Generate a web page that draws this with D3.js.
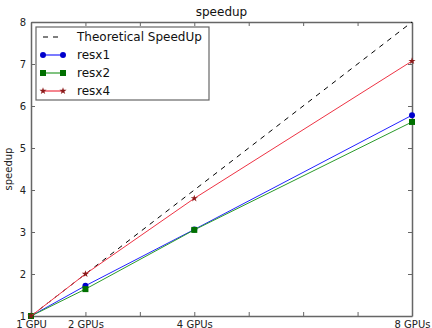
<!DOCTYPE html>
<html>
<head>
<meta charset="utf-8">
<script src="https://cdn.jsdelivr.net/npm/d3@7"></script>
<style>
  body { margin: 0; background: #fff; }
  svg { font-family: "DejaVu Sans", sans-serif; }
</style>
</head>
<body>
<script>
const gpus = [1, 2, 4, 8];
const tickLabels = ["1 GPU", "2 GPUs", "4 GPUs", "8 GPUs"];
const theoretical = [1, 2, 4, 8];
const resx1 = [1, 1.72, 3.06, 5.78];
const resx2 = [1, 1.64, 3.05, 5.62];
const resx4 = [1, 2.0, 3.8, 7.07];

const width = 432, height = 328;
const margin = { top: 22, right: 20, bottom: 12, left: 31 };
const w = 412 - margin.left, h = 316 - margin.top;

const svg = d3.select("body").append("svg")
  .attr("width", width).attr("height", height);

const g = svg.append("g").attr("transform", `translate(${margin.left},${margin.top})`);

const x = d3.scaleLinear().domain([1, 8]).range([0, w]);
const y = d3.scaleLinear().domain([1, 8]).range([h, 0]);

// ticks inside, on all four sides
const xTicks = d3.range(1, 9);
const yTicks = d3.range(1, 9);
const tickLen = 4;
const axisColor = "#666";

function label(v) {
  const i = gpus.indexOf(v);
  return i >= 0 ? tickLabels[i] : "";
}

const axBottom = g.append("g").attr("transform", `translate(0,${h})`)
  .call(d3.axisBottom(x).tickValues(xTicks).tickSizeInner(-tickLen).tickSizeOuter(0).tickPadding(3).tickFormat(label));
const axTop = g.append("g")
  .call(d3.axisTop(x).tickValues(xTicks).tickSizeInner(-tickLen).tickSizeOuter(0).tickFormat(""));
const axLeft = g.append("g")
  .call(d3.axisLeft(y).tickValues(yTicks).tickSizeInner(-tickLen).tickSizeOuter(0).tickPadding(5).tickFormat(d3.format("d")));
const axRight = g.append("g").attr("transform", `translate(${w},0)`)
  .call(d3.axisRight(y).tickValues(yTicks).tickSizeInner(-tickLen).tickSizeOuter(0).tickFormat(""));

[axBottom, axTop, axLeft, axRight].forEach(a => {
  a.select(".domain").attr("stroke", axisColor).attr("stroke-width", 1.5);
  a.selectAll(".tick line").attr("stroke", axisColor);
  a.selectAll("text").attr("font-size", 10).attr("fill", "#222").attr("font-family", "DejaVu Sans");
});
axBottom.selectAll("text").attr("dy", "0.9em");

// lines
const line = d3.line().x((d, i) => x(gpus[i])).y(d => y(d));

const series = [
  { name: "Theoretical SpeedUp", data: theoretical, color: "#000", dash: "5,5", marker: null },
  { name: "resx1", data: resx1, color: "#2222ff", dash: null, marker: "circle", mcolor: "#0000cc" },
  { name: "resx2", data: resx2, color: "#2a9a2a", dash: null, marker: "square", mcolor: "#007000" },
  { name: "resx4", data: resx4, color: "#ee3344", dash: null, marker: "star", mcolor: "#8b1a1a" }
];

const symbols = { circle: d3.symbolCircle, square: d3.symbolSquare, star: d3.symbolStar };
const sizes = { circle: 28, square: 36, star: 16 };

series.forEach(s => {
  g.append("path").datum(s.data)
    .attr("d", line)
    .attr("fill", "none")
    .attr("stroke", s.color)
    .attr("stroke-width", 1)
    .attr("stroke-dasharray", s.dash);
  if (s.marker) {
    g.selectAll(null).data(s.data).enter().append("path")
      .attr("transform", (d, i) => `translate(${x(gpus[i])},${y(d)})`)
      .attr("d", d3.symbol().type(symbols[s.marker]).size(sizes[s.marker]))
      .attr("fill", s.mcolor);
  }
});

// legend
const lg = g.append("g").attr("transform", "translate(5,5)");
lg.append("rect").attr("width", 173).attr("height", 73)
  .attr("fill", "#fff").attr("stroke", axisColor).attr("stroke-width", 1.2);
series.forEach((s, i) => {
  const yy = 10 + i * 18;
  lg.append("line").attr("x1", 7).attr("x2", 27).attr("y1", yy).attr("y2", yy)
    .attr("stroke", s.color).attr("stroke-width", 1.2).attr("stroke-dasharray", s.dash ? "5,5" : null);
  if (s.marker) {
    [7, 27].forEach(px => {
      lg.append("path").attr("transform", `translate(${px},${yy})`)
        .attr("d", d3.symbol().type(symbols[s.marker]).size(sizes[s.marker]))
        .attr("fill", s.mcolor);
    });
  }
  lg.append("text").attr("x", 41).attr("y", yy).attr("dy", "0.35em")
    .attr("font-size", 12).attr("fill", "#111").text(s.name);
});

// title and y label
svg.append("text").attr("x", margin.left + w / 2).attr("y", 16)
  .attr("text-anchor", "middle").attr("font-size", 12).attr("fill", "#111").text("speedup");
svg.append("text").attr("transform", `translate(12,${margin.top + h / 2}) rotate(-90)`)
  .attr("text-anchor", "middle").attr("font-size", 10).attr("fill", "#222").text("speedup");
</script>
</body>
</html>
